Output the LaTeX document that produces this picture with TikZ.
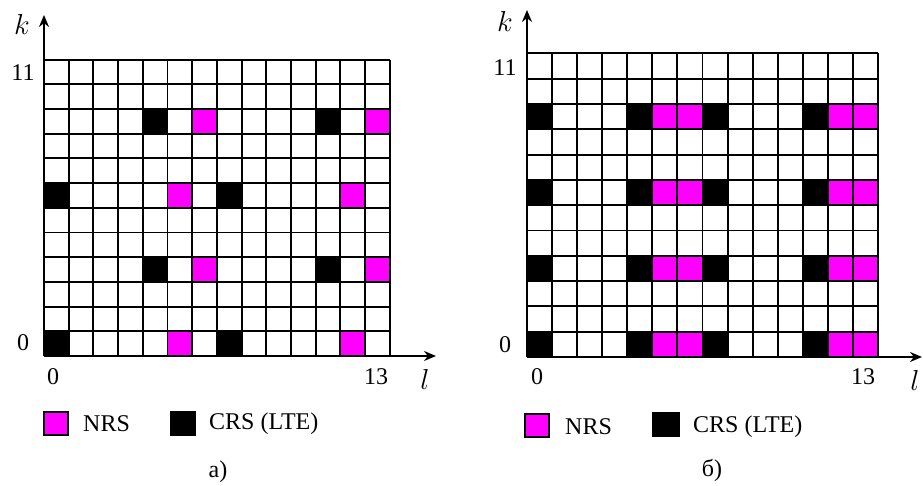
\documentclass[tikz,border=0pt]{standalone}
\usepackage{fontspec}
\setmainfont{Liberation Serif}
\usetikzlibrary{arrows.meta}
\definecolor{nrs}{RGB}{255,0,255}
\tikzset{
  gridline/.style={line width=1.9pt, black},
  axisline/.style={line width=1.8pt, black, -{Stealth[length=12pt,width=10pt]}},
  txt/.style={inner sep=0pt, font=\fontsize{24}{26}\selectfont},
  mathlbl/.style={inner sep=0pt, font=\fontsize{24.88}{26}\selectfont, scale=1.16},
  nrsbox/.style={fill=nrs, draw=black, line width=1.5pt},
  crsbox/.style={fill=black, draw=black, line width=1.5pt}
}
\begin{document}
\begin{tikzpicture}[x=1pt,y=1pt]
\useasboundingbox (0,0) rectangle (923,486);
\fill[white] (0,0) rectangle (923,486);
% ---------- panel a ----------
\begin{scope}[shift={(44pt,130pt)}, x=24.7pt, y=24.7pt]
  \foreach \c/\r in {4/9,11/9,0/6,7/6,4/3,11/3,0/0,7/0}
    \fill[black] (\c,\r) rectangle ++(1,1);
  \foreach \c/\r in {6/9,13/9,5/6,12/6,6/3,13/3,5/0,12/0}
    \fill[nrs] (\c,\r) rectangle ++(1,1);
  \foreach \i in {0,...,14} \draw[gridline] (\i,0) -- (\i,12);
  \foreach \j in {1,...,12} \draw[gridline] (0,\j) -- (14,\j);
  \coordinate (oa) at (0,0);
\end{scope}
\coordinate (kya) at (44,471);
\coordinate (lxa) at (436,130);
\draw[axisline] (oa) -- (kya);
\draw[axisline] (oa) -- (lxa);
\node[mathlbl] (ka) at (22,462) {$k$};
\node[mathlbl] (la) at (425,107) {$l$};
\node[txt] (k11a) at (23,413) {11};
\node[txt] (k0a) at (23,143) {0};
\node[txt] (l0a) at (53,109) {0};
\node[txt] (l13a) at (376,109) {13};
\draw[nrsbox] (44,51) rectangle (68,74);
\coordinate (nrsa) at (56,62.5);
\node[txt, anchor=west] (nrsta) at (83,62) {NRS};
\draw[crsbox] (171,51) rectangle (195,74);
\coordinate (crsa) at (183,62.5);
\node[txt, anchor=west] (crsta) at (209,62) {CRS (LTE)};
\node[txt] (capa) at (218,14) {а)};
% ---------- panel b ----------
\begin{scope}[shift={(527pt,129pt)}, x=25.07pt, y=25.3pt]
  \foreach \c in {0,4,7,11}
    \foreach \r in {0,3,6,9}
      \fill[black] (\c,\r) rectangle ++(1,1);
  \foreach \c in {5,6,12,13}
    \foreach \r in {0,3,6,9}
      \fill[nrs] (\c,\r) rectangle ++(1,1);
  \foreach \i in {0,...,14} \draw[gridline] (\i,0) -- (\i,12);
  \foreach \j in {1,...,12} \draw[gridline] (0,\j) -- (14,\j);
  \coordinate (ob) at (0,0);
\end{scope}
\coordinate (kyb) at (527,476);
\coordinate (lxb) at (922,129);
\draw[axisline] (ob) -- (kyb);
\draw[axisline] (ob) -- (lxb);
\node[mathlbl] (kb) at (505,465) {$k$};
\node[mathlbl] (lb) at (915,106) {$l$};
\node[txt] (k11b) at (505,418) {11};
\node[txt] (k0b) at (505,141) {0};
\node[txt] (l0b) at (537,109) {0};
\node[txt] (l13b) at (863,109) {13};
\draw[nrsbox] (525,49) rectangle (549,72);
\coordinate (nrsb) at (537,60.5);
\node[txt, anchor=west] (nrstb) at (565,59) {NRS};
\draw[crsbox] (653,50) rectangle (679,73);
\coordinate (crsb) at (666,61.5);
\node[txt, anchor=west] (crstb) at (693,59) {CRS (LTE)};
\node[txt] (capb) at (712,16) {б)};
\end{tikzpicture}
\end{document}
